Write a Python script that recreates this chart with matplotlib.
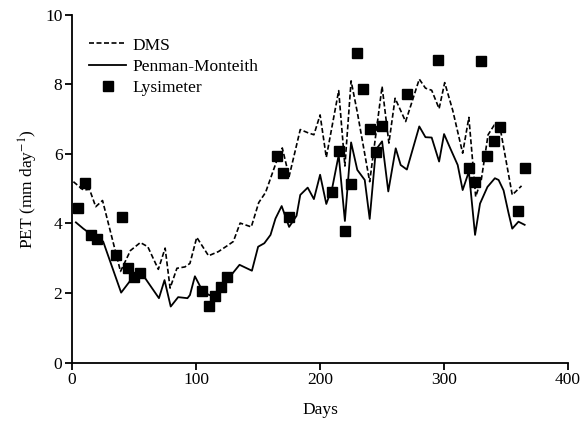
import matplotlib.pyplot as plt

plt.rcParams['font.family'] = ['Liberation Serif', 'DejaVu Serif']
plt.rcParams['mathtext.fontset'] = 'stix'

# DMS model estimates
dms_days = [1, 9, 14, 19, 24.5, 39, 47, 55, 61, 69.5, 75, 79, 84.5, 91, 95, 100.5,
            110, 118, 126, 130, 135.5, 144.5, 150.5, 156, 165, 169.5, 175, 184, 190,
            195, 200, 205, 215, 220, 225, 230, 235, 240, 250, 255.5, 260.5, 269, 280,
            285, 290, 296, 300.5, 307, 315, 320, 325.5, 330, 335.5, 340.5, 345, 355, 362.5]
dms_pet = [5.2, 4.96, 4.98, 4.48, 4.66, 2.62, 3.22, 3.45, 3.33, 2.68, 3.29, 2.14, 2.71, 2.75, 2.85, 3.6,
           3.07, 3.19, 3.38, 3.48, 4.01, 3.9, 4.6, 4.89, 5.8, 6.17, 5.35, 6.7, 6.61,
           6.55, 7.12, 5.9, 7.82, 5.65, 8.1, 7.2, 6.2, 5.2, 7.94, 6.31, 7.6, 6.93, 8.15,
           7.89, 7.83, 7.3, 8.05, 7.25, 6.02, 7.05, 4.77, 5.25, 6.55, 6.83, 6.79, 4.82, 5.08]

# Penman-Monteith estimates
pm_days = [3, 9, 14, 20, 25, 39.5, 47, 54, 58, 70, 74.5, 79.5, 85.5, 93, 95, 99,
           105, 110, 114, 120, 125, 135, 145, 150, 155, 160, 164, 169, 175, 181, 184,
           190, 195, 200, 205, 210, 215, 220, 225, 230, 236, 240, 245, 250, 255, 261,
           265, 270, 280, 285, 290, 296, 300, 305, 311, 315, 320, 325, 329, 335, 341,
           344, 348, 352, 355, 360, 365]
pm_pet = [4.03, 3.85, 3.72, 3.58, 3.48, 2.01, 2.36, 2.52, 2.47, 1.85, 2.37, 1.61, 1.88, 1.85, 1.94, 2.48,
          2.07, 1.95, 1.9, 2.15, 2.37, 2.81, 2.64, 3.33, 3.43, 3.67, 4.14, 4.5, 3.9, 4.22, 4.82,
          5.03, 4.7, 5.4, 4.56, 5.06, 5.97, 4.07, 6.33, 5.54, 5.25, 4.13, 6.12, 6.36, 4.92, 6.16,
          5.68, 5.55, 6.79, 6.48, 6.47, 5.78, 6.57, 6.16, 5.68, 4.96, 5.49, 3.67, 4.57, 5.05, 5.3,
          5.25, 4.95, 4.3, 3.85, 4.05, 3.96]

# Lysimeter measurements
lys_days = [5, 10, 15, 20, 35, 40, 45, 50, 55, 105, 110, 115, 120, 125, 165, 170, 175,
            210, 215, 220, 225, 230, 235, 240, 245, 250, 270, 295, 320, 325, 330, 335,
            340, 345, 360, 365]
lys_pet = [4.45, 5.17, 3.67, 3.55, 3.09, 4.18, 2.71, 2.45, 2.57, 2.06, 1.63, 1.91, 2.18, 2.47,
           5.94, 5.44, 4.18, 4.89, 6.09, 3.79, 5.12, 8.89, 7.88, 6.73, 6.06, 6.81, 7.73, 8.71,
           5.6, 5.19, 8.67, 5.95, 6.38, 6.77, 4.36, 5.58]

fig = plt.figure(figsize=(5.82, 4.23), dpi=100)
ax = fig.add_axes([0.124, 0.143, 0.852, 0.822])

ax.plot(dms_days, dms_pet, color='black', lw=1.2, linestyle=(0, (3, 1.5)), label='DMS')
ax.plot(pm_days, pm_pet, color='black', lw=1.3, label='Penman-Monteith')
ax.plot(lys_days, lys_pet, linestyle='none', marker='s', ms=7, color='black', label='Lysimeter')

ax.set_xlim(0, 400)
ax.set_ylim(0, 10)
ax.set_xticks([0, 100, 200, 300, 400])
ax.set_yticks([0, 2, 4, 6, 8, 10])
ax.spines['top'].set_visible(False)
ax.spines['right'].set_visible(False)
for s in ['left', 'bottom']:
    ax.spines[s].set_linewidth(1.3)
ax.tick_params(direction='out', length=5, width=1.3, labelsize=12.5, pad=2)

ax.set_xlabel('Days', fontsize=12.5, labelpad=10)
ax.set_ylabel('PET (mm day$^{-1}$)', fontsize=12.5, labelpad=4)

ax.legend(loc='upper left', bbox_to_anchor=(0.01, 0.97), frameon=False, fontsize=12.5,
          handlelength=2.1, handletextpad=0.4, labelspacing=0.3, borderaxespad=0.3)

fig.savefig('out.png', dpi=100)
